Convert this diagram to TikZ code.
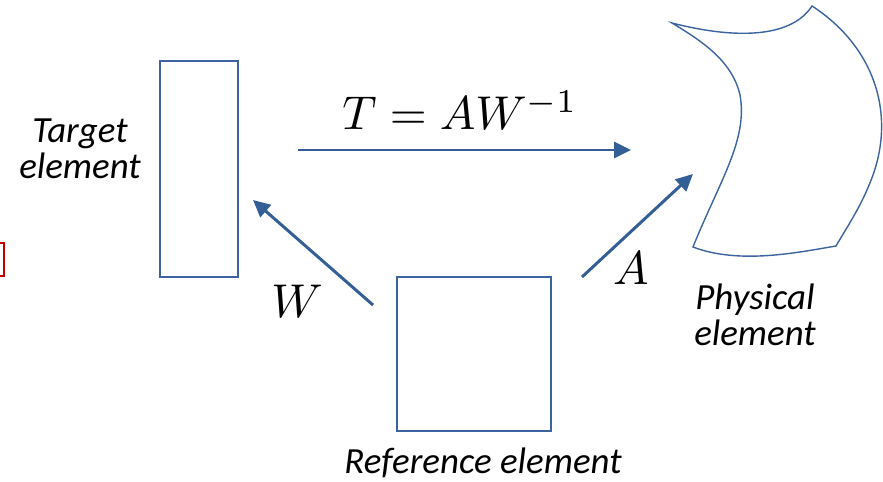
\documentclass[tikz,border=0pt]{standalone}
\usepackage{graphicx}
\usepackage{fontspec}
\setsansfont{Carlito}
\usepackage{tikz}
\usetikzlibrary{arrows.meta,positioning}
\definecolor{shapeblue}{RGB}{60,100,160}
\definecolor{arrowblue}{RGB}{52,94,150}
\definecolor{markred}{RGB}{192,0,0}
\newcommand{\bigmath}[1]{\scalebox{2.7}{$#1$}}

\begin{document}
\begin{tikzpicture}[
  x=0.02cm,y=-0.02cm,
  elem/.style={draw=shapeblue,line width=0.8pt,inner sep=0pt},
  caption/.style={font=\fontsize{21}{20.5}\selectfont\sffamily\itshape,align=center,text=black},
  mathlbl/.style={anchor=base,inner sep=0pt},
  arrow/.style={-{Triangle[length=3.4mm,width=3.2mm]},line width=1.7pt,arrowblue}
]
\clip (0,0) rectangle (883,482);
% elements
\node[elem,minimum width=78*0.02cm,minimum height=216*0.02cm] (target) at (199,169) {};
\node[elem,minimum width=154*0.02cm,minimum height=154*0.02cm] (reference) at (474,354) {};
\draw[shapeblue,line width=0.8pt] (672,23)
  .. controls (730,38) and (790,40) .. (812,6)
  .. controls (872,45) and (896,110) .. (873,175)
  .. controls (862,205) and (850,222) .. (836,246)
  .. controls (800,252) and (740,265) .. (693,247)
  .. controls (720,180) and (748,140) .. (740,95)
  .. controls (732,60) and (700,40) .. (672,23) -- cycle;
\coordinate (physical) at (760,130);
\draw[markred,line width=1.4pt] (-20,243) rectangle (4,276);
% captions
\node[caption] (targetlbl) at (80,149) {Target\\element};
\node[caption] (physlbl) at (755,315) {Physical\\element};
\node[caption] (reflbl) at (483,463) {Reference element};
% mappings
\coordinate (tstart) at (298,150);
\coordinate (tend) at (631,150);
\coordinate (wstart) at (373,305);
\coordinate (wend) at (253,200);
\coordinate (astart) at (582,277);
\coordinate (aend) at (693,174);
\draw[arrow] (tstart) -- (tend);
\draw[arrow] (wstart) -- (wend);
\draw[arrow] (astart) -- (aend);
\node[mathlbl] (tlbl) at (460,130) {\bigmath{T = AW^{-1}}};
\node[mathlbl] (wlbl) at (297,318) {\bigmath{W}};
\node[mathlbl] (albl) at (631,285) {\bigmath{A}};
\end{tikzpicture}
\end{document}
